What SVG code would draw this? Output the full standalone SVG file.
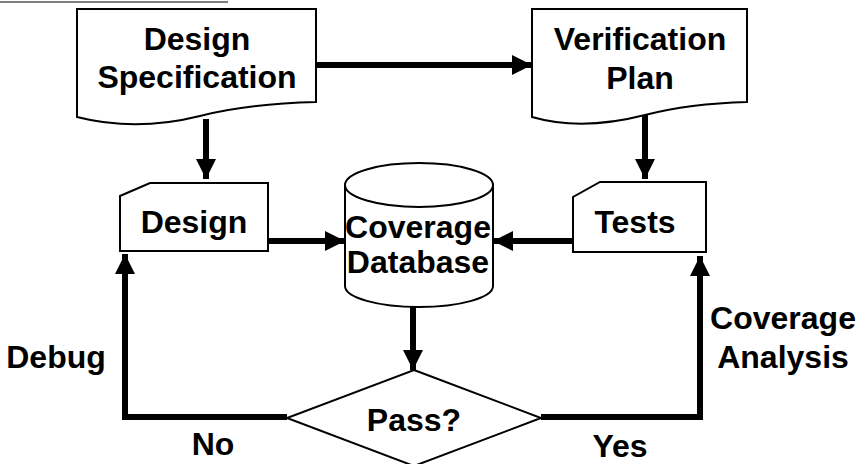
<svg xmlns="http://www.w3.org/2000/svg" width="860" height="464" viewBox="0 0 860 464">
<defs>
<style>
.shape{fill:#fff;stroke:#000;stroke-width:2}
.t{font-family:"Liberation Sans",Arial,sans-serif;font-weight:bold;font-size:32px;fill:#000;text-anchor:middle}
.c{fill:none;stroke:#000;stroke-width:6}
</style>
<marker id="ah" markerUnits="userSpaceOnUse" markerWidth="20" markerHeight="20" viewBox="0 0 20 20" refX="20" refY="10" orient="auto">
<path d="M0,0 L20,10 L0,20 Z" fill="#000"/>
</marker>
</defs>
<rect width="860" height="464" fill="#fff"/>
<line x1="0" y1="2" x2="228" y2="2" stroke="#000" stroke-width="1.2"/>

<g id="connectors">
<line class="c" x1="316" y1="65" x2="532" y2="65" marker-end="url(#ah)"/>
<line class="c" x1="206" y1="119" x2="206" y2="179" marker-end="url(#ah)"/>
<line class="c" x1="645" y1="114" x2="645" y2="179" marker-end="url(#ah)"/>
<line class="c" x1="268" y1="241" x2="345" y2="241" marker-end="url(#ah)"/>
<line class="c" x1="573" y1="241" x2="493" y2="241" marker-end="url(#ah)"/>
<line class="c" x1="413" y1="307" x2="413" y2="370" marker-end="url(#ah)"/>
<polyline class="c" points="287,417 125,417 125,254" marker-end="url(#ah)"/>
<polyline class="c" points="541,417 700,417 700,256" marker-end="url(#ah)"/>
</g>

<g id="design-spec">
<path class="shape" d="M77,9 H316 V102 C280,103 240,106 200,116 C160,126 120,128 77,117 Z"/>
<text class="t" x="197" y="50">Design</text>
<text class="t" x="197" y="88">Specification</text>
</g>

<g id="verification-plan">
<path class="shape" d="M532,9 H747 V102 C711,103 680,106 645,115 C610,124 570,128 532,117 Z"/>
<text class="t" x="640" y="50">Verification</text>
<text class="t" x="640" y="89">Plan</text>
</g>

<g id="design">
<path class="shape" d="M150,183 H268 V251 H120 V196 Z"/>
<text class="t" x="194" y="233">Design</text>
</g>

<g id="tests">
<path class="shape" d="M600,182 H706 V252 H573 V197 Z"/>
<text class="t" x="635" y="233">Tests</text>
</g>

<g id="coverage-db">
<path class="shape" d="M345,185 V286 A74,21 0 0 0 493,286 V185"/>
<ellipse class="shape" cx="419" cy="185" rx="74" ry="22"/>
<text class="t" x="418" y="238">Coverage</text>
<text class="t" x="418" y="273">Database</text>
</g>

<g id="pass">
<path class="shape" d="M414,370 L541,418 L414,466 L287,418 Z"/>
<text class="t" x="414" y="431">Pass?</text>
</g>

<g id="labels">
<text class="t" x="56" y="368">Debug</text>
<text class="t" x="213" y="455">No</text>
<text class="t" x="620" y="457">Yes</text>
<text class="t" x="783" y="329">Coverage</text>
<text class="t" x="783" y="368">Analysis</text>
</g>
</svg>
